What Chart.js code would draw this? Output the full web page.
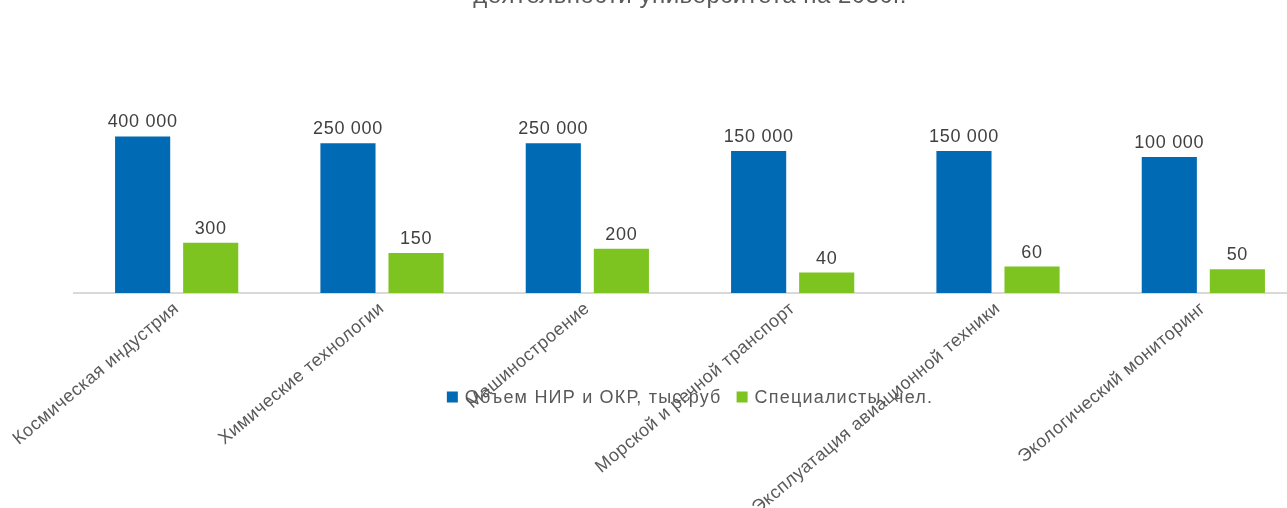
<!DOCTYPE html>
<html lang="ru">
<head>
<meta charset="utf-8">
<title>Направления деятельности университета</title>
<script src="https://cdn.jsdelivr.net/npm/chart.js@4/dist/chart.umd.min.js"></script>
<style>
  html, body { margin: 0; padding: 0; background: #fff; overflow: hidden; }
  #wrap { position: relative; width: 1380px; height: 540px; margin-top: -27px; }
</style>
</head>
<body>
<div id="wrap"><canvas id="areasChart"></canvas></div>
<script>
// Направления: объем НИР/ОКР и количество специалистов (общая логарифмическая ось)
const categories = [
  'Космическая индустрия',
  'Химические технологии',
  'Машиностроение',
  'Морской и речной транспорт',
  'Эксплуатация авиационной техники',
  'Экологический мониторинг'
];
const researchVolume = [400000, 250000, 250000, 150000, 150000, 100000];
const specialists = [300, 150, 200, 40, 60, 50];

const TEXT_COLOR = '#595959';
const FONT = '"Liberation Sans", Arial, sans-serif';
const BLUE = '#006ab4';
const GREEN = '#7ec421';

// 400000 -> "400 000"
const fmt = v => String(v).replace(/\B(?=(\d{3})+(?!\d))/g, ' ');

// a touch of tracking for axis labels and title (canvas state, set before measuring and drawing)
const tracking = {
  id: 'tracking',
  beforeUpdate(chart) { chart.ctx.letterSpacing = '0.5px'; },
  beforeDraw(chart) { chart.ctx.letterSpacing = '0.5px'; }
};

// value labels above each bar
const valueLabels = {
  id: 'valueLabels',
  afterDatasetsDraw(chart) {
    const { ctx } = chart;
    ctx.save();
    ctx.letterSpacing = '0.7px';
    ctx.font = '18px ' + FONT;
    ctx.fillStyle = '#404040';
    ctx.textAlign = 'center';
    ctx.textBaseline = 'alphabetic';
    chart.data.datasets.forEach((ds, i) => {
      chart.getDatasetMeta(i).data.forEach((bar, j) => {
        ctx.fillText(fmt(ds.data[j]), bar.x, bar.y - 9);
      });
    });
    ctx.restore();
  }
};

// legend row drawn across the category labels, centred on the chart
const overlayLegend = {
  id: 'overlayLegend',
  afterDraw(chart) {
    const { ctx, chartArea } = chart;
    const box = 11, gapText = 7, gapItem = 15;
    ctx.save();
    ctx.letterSpacing = '1.2px';
    ctx.font = '18px ' + FONT;
    ctx.textBaseline = 'middle';
    const items = chart.data.datasets.map(ds => ({ label: ds.label, color: ds.backgroundColor }));
    const widths = items.map(it => box + gapText + ctx.measureText(it.label).width);
    const total = widths.reduce((a, b) => a + b, 0) + gapItem * (items.length - 1);
    let x = chart.width / 2 - total / 2;
    const y = chartArea.bottom + 104;
    items.forEach((it, i) => {
      ctx.fillStyle = it.color;
      ctx.fillRect(x, y - box / 2, box, box);
      ctx.fillStyle = TEXT_COLOR;
      ctx.textAlign = 'left';
      ctx.fillText(it.label, x + box + gapText, y + 1);
      x += widths[i] + gapItem;
    });
    ctx.restore();
  }
};

const ctx = document.getElementById('areasChart').getContext('2d');
new Chart(ctx, {
  type: 'bar',
  data: {
    labels: categories,
    datasets: [
      {
        label: 'Объем НИР и ОКР, тыс.руб',
        data: researchVolume,
        backgroundColor: BLUE,
        categoryPercentage: 0.663,
        barPercentage: 0.81
      },
      {
        label: 'Специалисты, чел.',
        data: specialists,
        backgroundColor: GREEN,
        categoryPercentage: 0.663,
        barPercentage: 0.81
      }
    ]
  },
  options: {
    responsive: true,
    maintainAspectRatio: false,
    animation: false,
    layout: { padding: { left: 74, right: 74, top: 0, bottom: 0 } },
    plugins: {
      legend: { display: false },
      tooltip: { enabled: false },
      title: {
        display: true,
        text: 'деятельности университета на 2030г.',
        color: TEXT_COLOR,
        font: { family: FONT, size: 24, weight: 'normal' },
        padding: { top: 9, bottom: 10 }
      }
    },
    scales: {
      x: {
        grid: { display: false },
        border: { display: true, color: '#d9d9d9', width: 2 },
        ticks: {
          color: TEXT_COLOR,
          font: { family: FONT, size: 18 },
          autoSkip: false,
          minRotation: 40,
          maxRotation: 40,
          padding: -3
        },
        // fixed band for the rotated labels so the plot bottom stays put
        afterFit: scale => { scale.height = 220; }
      },
      y: {
        type: 'logarithmic',
        display: false,
        min: 10,
        max: 1e9
      }
    }
  },
  plugins: [tracking, valueLabels, overlayLegend]
});
</script>
</body>
</html>
